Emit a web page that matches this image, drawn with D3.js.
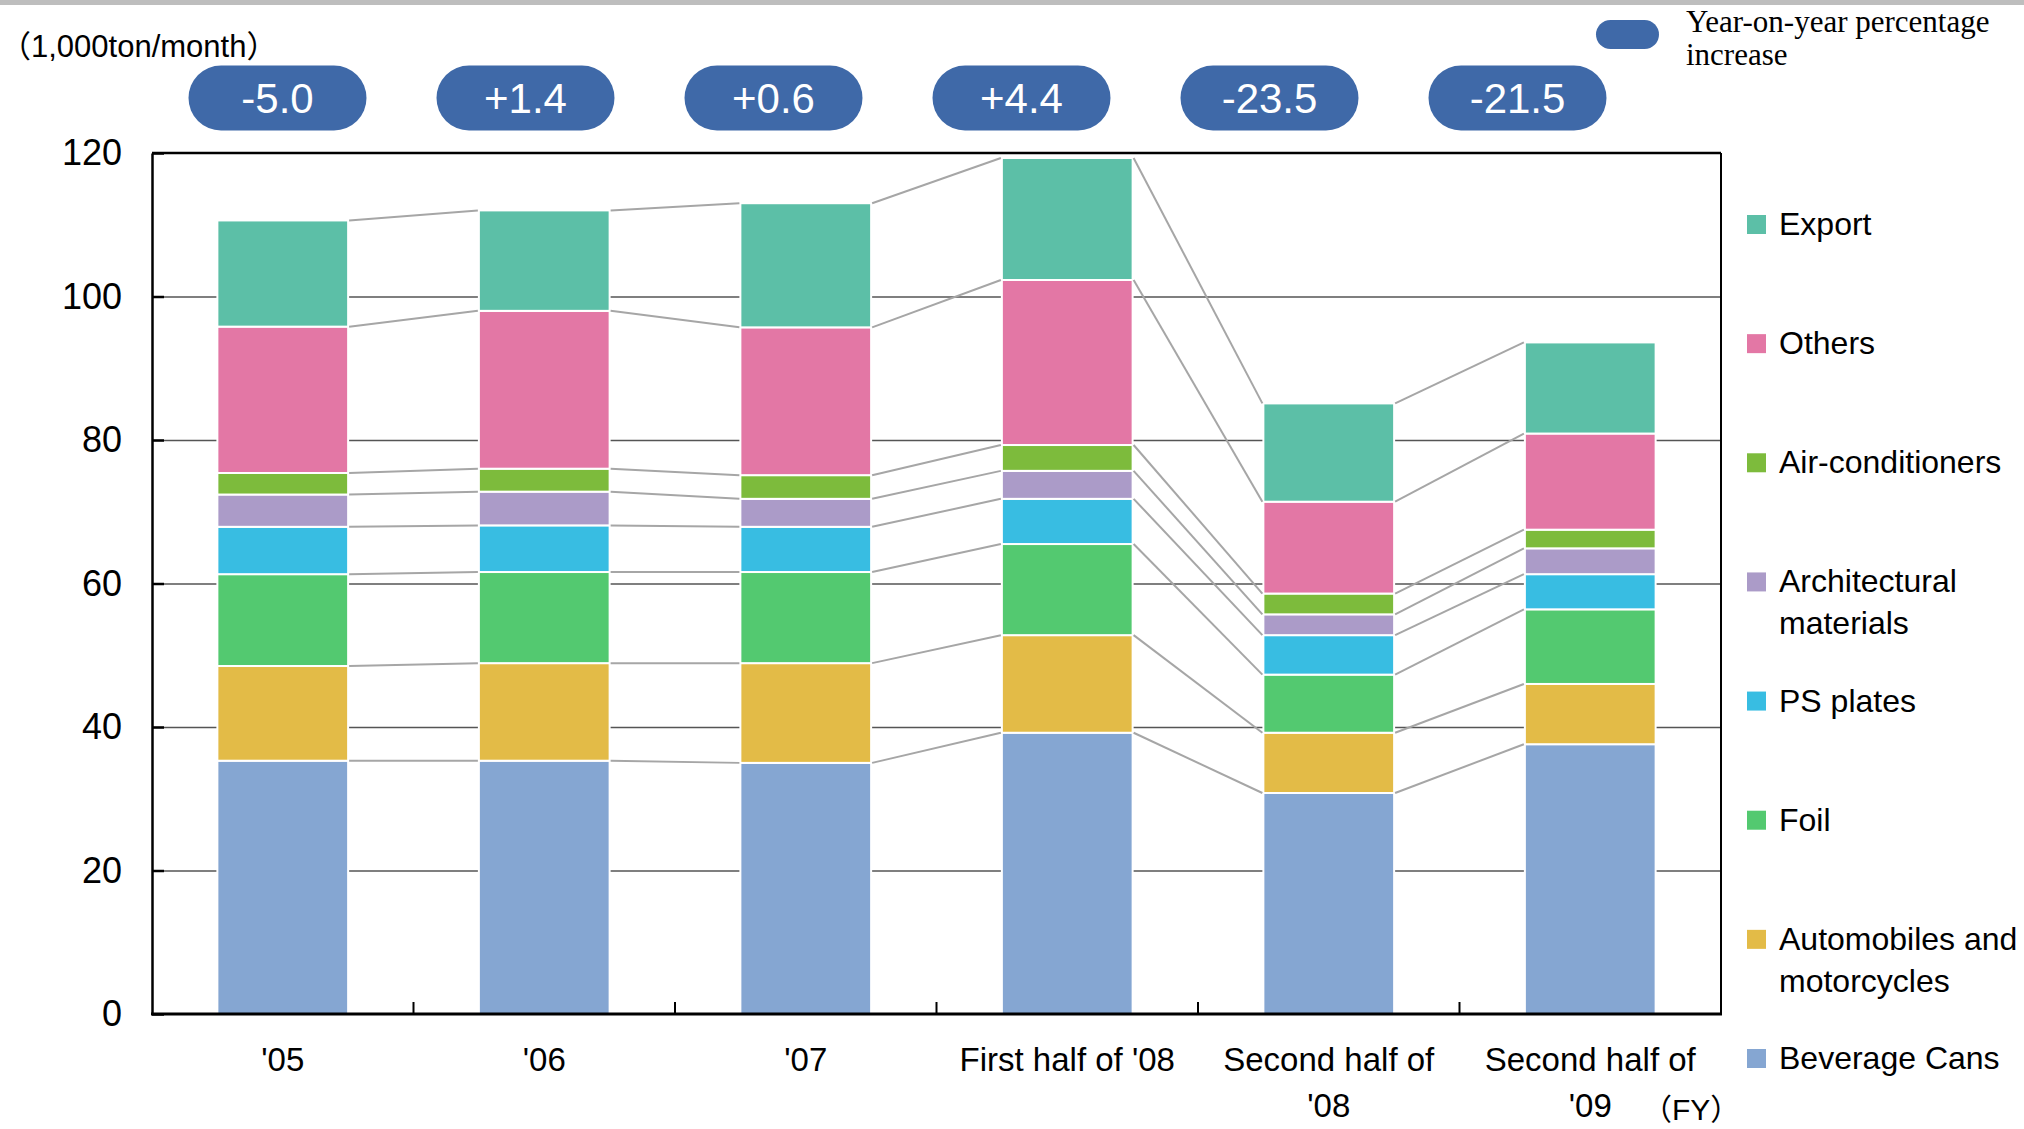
<!DOCTYPE html>
<html>
<head>
<meta charset="utf-8">
<script src="https://cdn.jsdelivr.net/npm/d3@7/dist/d3.min.js"></script>
<style>
  html, body { margin: 0; padding: 0; background: #ffffff; }
  svg { display: block; }
  text { font-family: "Liberation Sans", Arial, "Noto Sans CJK JP", sans-serif; fill: #000; }
</style>
</head>
<body>
<svg id="chart" width="2024" height="1129"></svg>
<script>
// Aluminium shipments by end use (1,000 ton / month), stacked bottom to top
const categories = ["'05", "'06", "'07", "First half of '08", "Second half of '08", "Second half of '09"];
const categoryLabelLines = [["'05"], ["'06"], ["'07"], ["First half of '08"], ["Second half of", "'08"], ["Second half of", "'09"]];

const beverageCans    = [35.3, 35.3, 35.0, 39.2, 30.8, 37.6];
const automobiles     = [13.2, 13.6, 13.9, 13.6,  8.4,  8.4];
const foil            = [12.8, 12.7, 12.7, 12.7,  8.1, 10.4];
const psPlates        = [ 6.6,  6.5,  6.3,  6.3,  5.5,  4.9];
const architectural   = [ 4.5,  4.7,  3.9,  3.9,  2.9,  3.6];
const airConditioners = [ 3.0,  3.2,  3.3,  3.6,  2.9,  2.6];
const others          = [20.4, 22.0, 20.6, 23.0, 12.8, 13.4];
const exportVolume    = [14.8, 14.0, 17.3, 17.0, 13.7, 12.7];

// Year-on-year change (%)
const yoyChange = [-5.0, 1.4, 0.6, 4.4, -23.5, -21.5];

const yTicks = [0, 20, 40, 60, 80, 100, 120];

const seriesNames = ["Beverage Cans", "Automobiles and motorcycles", "Foil", "PS plates",
                     "Architectural materials", "Air-conditioners", "Others", "Export"];
const seriesValues = [beverageCans, automobiles, foil, psPlates, architectural, airConditioners, others, exportVolume];
const seriesColors = ["#85a6d2", "#e3bb47", "#53c970", "#38bde2", "#ab9bc8", "#7dbb3c", "#e377a5", "#5cbfa7"];
// legend order (top to bottom) and wrapped labels
const legendOrder = ["Export", "Others", "Air-conditioners", "Architectural materials", "PS plates", "Foil", "Automobiles and motorcycles", "Beverage Cans"];
const legendLines = {
  "Export": ["Export"],
  "Others": ["Others"],
  "Air-conditioners": ["Air-conditioners"],
  "Architectural materials": ["Architectural", "materials"],
  "PS plates": ["PS plates"],
  "Foil": ["Foil"],
  "Automobiles and motorcycles": ["Automobiles and", "motorcycles"],
  "Beverage Cans": ["Beverage Cans"]
};

const svg = d3.select("#chart");
const plot = { left: 152, right: 1721, top: 153, bottom: 1014 };

const x = d3.scaleBand().domain(categories).range([plot.left, plot.right])
  .paddingInner(0.5).paddingOuter(0.25);
const y = d3.scaleLinear().domain([0, 120]).range([plot.bottom, plot.top]);
const color = d3.scaleOrdinal().domain(seriesNames).range(seriesColors);

// rows for the stack layout
const rows = categories.map((c, i) => {
  const r = { category: c };
  seriesNames.forEach((s, k) => { r[s] = seriesValues[k][i]; });
  return r;
});
const stacked = d3.stack().keys(seriesNames)(rows);

// thin band along the top edge
svg.append("rect").attr("x", 0).attr("y", 0).attr("width", 2024).attr("height", 5).attr("fill", "#bebebe");

// horizontal gridlines
svg.append("g")
  .attr("transform", `translate(${plot.left},0)`)
  .call(d3.axisLeft(y).tickValues(yTicks.filter(t => t > 0 && t < 120)).tickSize(-(plot.right - plot.left)).tickFormat(""))
  .call(g => g.select(".domain").remove())
  .call(g => g.selectAll(".tick line").attr("stroke", "#555").attr("stroke-width", 1.3));

// stacked bars
const layers = svg.append("g").selectAll("g").data(stacked).join("g")
  .attr("fill", d => color(d.key));
layers.selectAll("rect").data(d => d).join("rect")
  .attr("x", d => x(d.data.category))
  .attr("width", x.bandwidth())
  .attr("y", d => y(d[1]))
  .attr("height", d => y(d[0]) - y(d[1]))
  .attr("stroke", "#ffffff")
  .attr("stroke-width", 2);

// connector lines between the tops of each segment
const connectors = svg.append("g").attr("stroke", "#a6a6a6").attr("stroke-width", 2).attr("fill", "none");
stacked.forEach(layer => {
  for (let i = 0; i < categories.length - 1; i++) {
    connectors.append("line")
      .attr("x1", x(categories[i]) + x.bandwidth() + 1)
      .attr("y1", y(layer[i][1]))
      .attr("x2", x(categories[i + 1]) - 1)
      .attr("y2", y(layer[i + 1][1]));
  }
});

// frame: top and right borders
svg.append("line").attr("x1", plot.left).attr("x2", plot.right).attr("y1", plot.top).attr("y2", plot.top)
  .attr("stroke", "#000").attr("stroke-width", 2.5);
svg.append("line").attr("x1", plot.right).attr("x2", plot.right).attr("y1", plot.top).attr("y2", plot.bottom)
  .attr("stroke", "#000").attr("stroke-width", 2);

// y axis with inward ticks
svg.append("g")
  .attr("transform", `translate(${plot.left},0)`)
  .call(d3.axisLeft(y).tickValues(yTicks).tickSizeInner(-12).tickSizeOuter(0).tickPadding(30))
  .call(g => g.select(".domain").attr("stroke", "#000").attr("stroke-width", 2.5))
  .call(g => g.selectAll(".tick line").attr("stroke", "#000").attr("stroke-width", 2.5))
  .call(g => g.selectAll(".tick text").attr("font-size", 36).attr("font-family", "'Liberation Sans', Arial, sans-serif").attr("fill", "#000"));

// x axis line and category boundary ticks
svg.append("line").attr("x1", plot.left - 1).attr("x2", plot.right + 1).attr("y1", plot.bottom).attr("y2", plot.bottom)
  .attr("stroke", "#000").attr("stroke-width", 3);
const boundaries = categories.slice(1).map(c => x(c) - x.step() * x.paddingInner() / 2);
svg.append("g").selectAll("line").data(boundaries).join("line")
  .attr("x1", d => d).attr("x2", d => d)
  .attr("y1", plot.bottom).attr("y2", plot.bottom - 12)
  .attr("stroke", "#000").attr("stroke-width", 2);

// category labels (wrapped)
const xl = svg.append("g").attr("font-size", 33).attr("text-anchor", "middle");
categories.forEach((c, i) => {
  const t = xl.append("text").attr("x", x(c) + x.bandwidth() / 2).attr("y", plot.bottom + 57);
  categoryLabelLines[i].forEach((line, j) => {
    t.append("tspan").attr("x", x(c) + x.bandwidth() / 2).attr("dy", j === 0 ? 0 : 46).text(line);
  });
});

// fiscal year note and unit label
svg.append("text").attr("x", 1642).attr("y", plot.bottom + 106).attr("font-size", 30).text("（FY）");
svg.append("text").attr("x", 0).attr("y", 57).attr("font-size", 31).text("（1,000ton/month）");

// year-on-year pills (plain hyphen for negatives)
const pillX = d3.scalePoint().domain(categories).range([277.5, 1517.5]);
const pillW = 178, pillH = 65, pillCY = 98;
const fmt = d3.formatLocale({ decimal: ".", thousands: ",", grouping: [3], currency: ["", ""], minus: "-" }).format("+.1f");
const pills = svg.append("g").selectAll("g").data(categories).join("g")
  .attr("transform", c => `translate(${pillX(c)},${pillCY})`);
pills.append("rect")
  .attr("x", -pillW / 2).attr("y", -pillH / 2).attr("width", pillW).attr("height", pillH)
  .attr("rx", pillH / 2).attr("ry", pillH / 2).attr("fill", "#3f69a8");
pills.append("text")
  .attr("text-anchor", "middle").attr("y", 15).attr("font-size", 42).style("fill", "#ffffff")
  .text((c, i) => fmt(yoyChange[i]));

// pill legend
svg.append("rect").attr("x", 1596).attr("y", 20).attr("width", 63).attr("height", 29)
  .attr("rx", 14.5).attr("fill", "#3f69a8");
const pl = svg.append("text").attr("x", 1686).attr("y", 32).attr("font-size", 31)
  .style("font-family", "'Liberation Serif', 'Times New Roman', serif");
pl.append("tspan").attr("x", 1686).attr("dy", 0).text("Year-on-year percentage");
pl.append("tspan").attr("x", 1686).attr("dy", 33).text("increase");

// series legend
const legendY = d3.scalePoint().domain(legendOrder).range([215, 1049]);
const lg = svg.append("g").selectAll("g").data(legendOrder).join("g")
  .attr("transform", s => `translate(1747,${legendY(s)})`);
lg.append("rect").attr("width", 19).attr("height", 19).attr("fill", s => color(s));
lg.append("text").attr("x", 32).attr("y", 20).attr("font-size", 32)
  .each(function (s) {
    const t = d3.select(this);
    legendLines[s].forEach((line, j) => {
      t.append("tspan").attr("x", 32).attr("dy", j === 0 ? 0 : 42).text(line);
    });
  });
</script>
</body>
</html>
